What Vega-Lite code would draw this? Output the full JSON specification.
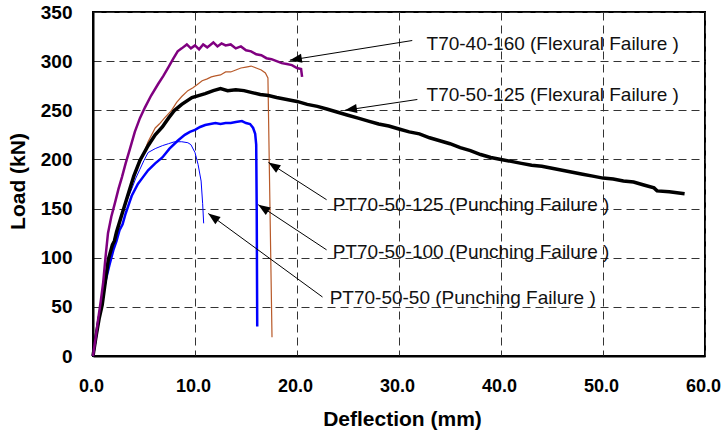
{
  "$schema": "https://vega.github.io/schema/vega-lite/v6.json",
  "width": 612,
  "height": 344,
  "autosize": "none",
  "padding": {"left": 93, "top": 12, "right": 17, "bottom": 78},
  "background": "white",
  "config": {
    "view": {"stroke": "black", "strokeWidth": 2},
    "axis": {
      "domainColor": "black", "domainWidth": 2,
      "gridColor": "#333333", "gridDash": [8, 5], "gridWidth": 1,
      "ticks": false, "tickSize": 0,
      "labelFont": "Liberation Sans", "labelFontWeight": "bold", "labelFontSize": 19, "labelColor": "black",
      "titleFont": "Liberation Sans", "titleFontWeight": "bold", "titleFontSize": 21, "titleColor": "black"
    }
  },
  "datasets": {
    "curves": [
      {"s":"PT70-50-125","x":0,"y":0},{"s":"PT70-50-125","x":0.3,"y":18},{"s":"PT70-50-125","x":0.6,"y":36},{"s":"PT70-50-125","x":0.9,"y":52},{"s":"PT70-50-125","x":1.2,"y":72},{"s":"PT70-50-125","x":1.5,"y":90},{"s":"PT70-50-125","x":1.9,"y":108},{"s":"PT70-50-125","x":2.4,"y":128},{"s":"PT70-50-125","x":2.9,"y":146},{"s":"PT70-50-125","x":3.4,"y":162},{"s":"PT70-50-125","x":3.9,"y":178},{"s":"PT70-50-125","x":4.4,"y":192},{"s":"PT70-50-125","x":4.9,"y":204},{"s":"PT70-50-125","x":5.4,"y":218},{"s":"PT70-50-125","x":6.1,"y":232},{"s":"PT70-50-125","x":6.5,"y":236},{"s":"PT70-50-125","x":7.0,"y":242},{"s":"PT70-50-125","x":7.7,"y":250},{"s":"PT70-50-125","x":8.2,"y":258},{"s":"PT70-50-125","x":8.7,"y":264},{"s":"PT70-50-125","x":9.3,"y":270},{"s":"PT70-50-125","x":9.8,"y":273},{"s":"PT70-50-125","x":10.2,"y":276},{"s":"PT70-50-125","x":10.7,"y":280},{"s":"PT70-50-125","x":11.2,"y":282},{"s":"PT70-50-125","x":11.6,"y":284},{"s":"PT70-50-125","x":12.0,"y":285},{"s":"PT70-50-125","x":12.5,"y":286},{"s":"PT70-50-125","x":13.0,"y":289},{"s":"PT70-50-125","x":13.5,"y":289},{"s":"PT70-50-125","x":14.0,"y":291},{"s":"PT70-50-125","x":14.5,"y":293},{"s":"PT70-50-125","x":15.0,"y":294},{"s":"PT70-50-125","x":15.5,"y":295},{"s":"PT70-50-125","x":16.0,"y":293},{"s":"PT70-50-125","x":16.5,"y":291},{"s":"PT70-50-125","x":16.9,"y":288},{"s":"PT70-50-125","x":17.15,"y":283},{"s":"PT70-50-125","x":17.55,"y":19},
      {"s":"PT70-50-50","x":0,"y":0},{"s":"PT70-50-50","x":0.3,"y":22},{"s":"PT70-50-50","x":0.6,"y":44},{"s":"PT70-50-50","x":0.9,"y":64},{"s":"PT70-50-50","x":1.2,"y":82},{"s":"PT70-50-50","x":1.6,"y":100},{"s":"PT70-50-50","x":2.0,"y":117},{"s":"PT70-50-50","x":2.4,"y":128},{"s":"PT70-50-50","x":3.0,"y":148},{"s":"PT70-50-50","x":3.4,"y":160},{"s":"PT70-50-50","x":3.8,"y":170},{"s":"PT70-50-50","x":4.2,"y":181},{"s":"PT70-50-50","x":4.6,"y":190},{"s":"PT70-50-50","x":5.0,"y":199},{"s":"PT70-50-50","x":5.4,"y":207},{"s":"PT70-50-50","x":6.1,"y":211},{"s":"PT70-50-50","x":6.8,"y":214},{"s":"PT70-50-50","x":7.4,"y":216},{"s":"PT70-50-50","x":8.0,"y":218},{"s":"PT70-50-50","x":8.7,"y":218},{"s":"PT70-50-50","x":9.3,"y":217},{"s":"PT70-50-50","x":9.6,"y":215},{"s":"PT70-50-50","x":10.0,"y":207},{"s":"PT70-50-50","x":10.3,"y":195},{"s":"PT70-50-50","x":10.6,"y":178},{"s":"PT70-50-50","x":10.75,"y":155},{"s":"PT70-50-50","x":10.85,"y":135},
      {"s":"PT70-50-100","x":0,"y":0},{"s":"PT70-50-100","x":0.3,"y":20},{"s":"PT70-50-100","x":0.6,"y":40},{"s":"PT70-50-100","x":0.9,"y":58},{"s":"PT70-50-100","x":1.2,"y":75},{"s":"PT70-50-100","x":1.6,"y":92},{"s":"PT70-50-100","x":2.0,"y":108},{"s":"PT70-50-100","x":2.3,"y":117},{"s":"PT70-50-100","x":2.6,"y":128},{"s":"PT70-50-100","x":2.9,"y":134},{"s":"PT70-50-100","x":3.2,"y":145},{"s":"PT70-50-100","x":3.5,"y":154},{"s":"PT70-50-100","x":3.8,"y":163},{"s":"PT70-50-100","x":4.4,"y":175},{"s":"PT70-50-100","x":4.9,"y":182},{"s":"PT70-50-100","x":5.4,"y":189},{"s":"PT70-50-100","x":6.1,"y":196},{"s":"PT70-50-100","x":6.8,"y":202},{"s":"PT70-50-100","x":7.5,"y":211},{"s":"PT70-50-100","x":8.3,"y":219},{"s":"PT70-50-100","x":9.0,"y":225},{"s":"PT70-50-100","x":9.5,"y":228},{"s":"PT70-50-100","x":10.0,"y":230},{"s":"PT70-50-100","x":10.5,"y":233},{"s":"PT70-50-100","x":11.0,"y":235},{"s":"PT70-50-100","x":11.5,"y":236},{"s":"PT70-50-100","x":12.0,"y":237},{"s":"PT70-50-100","x":12.5,"y":236},{"s":"PT70-50-100","x":13.0,"y":237},{"s":"PT70-50-100","x":13.5,"y":237},{"s":"PT70-50-100","x":14.0,"y":238},{"s":"PT70-50-100","x":14.6,"y":239},{"s":"PT70-50-100","x":15.0,"y":237},{"s":"PT70-50-100","x":15.4,"y":236},{"s":"PT70-50-100","x":15.7,"y":232},{"s":"PT70-50-100","x":15.9,"y":226},{"s":"PT70-50-100","x":16.0,"y":215},{"s":"PT70-50-100","x":16.05,"y":150},{"s":"PT70-50-100","x":16.1,"y":30},
      {"s":"T70-50-125","x":0,"y":0},{"s":"T70-50-125","x":0.3,"y":20},{"s":"T70-50-125","x":0.6,"y":38},{"s":"T70-50-125","x":0.9,"y":52},{"s":"T70-50-125","x":1.2,"y":75},{"s":"T70-50-125","x":1.5,"y":98},{"s":"T70-50-125","x":1.9,"y":113},{"s":"T70-50-125","x":2.1,"y":117},{"s":"T70-50-125","x":2.3,"y":126},{"s":"T70-50-125","x":2.8,"y":143},{"s":"T70-50-125","x":3.4,"y":163},{"s":"T70-50-125","x":4.0,"y":183},{"s":"T70-50-125","x":4.6,"y":199},{"s":"T70-50-125","x":5.4,"y":214},{"s":"T70-50-125","x":6.1,"y":225},{"s":"T70-50-125","x":6.8,"y":233},{"s":"T70-50-125","x":7.4,"y":242},{"s":"T70-50-125","x":8.0,"y":250},{"s":"T70-50-125","x":8.7,"y":256},{"s":"T70-50-125","x":9.7,"y":263},{"s":"T70-50-125","x":11.0,"y":267},{"s":"T70-50-125","x":11.8,"y":270},{"s":"T70-50-125","x":12.5,"y":272},{"s":"T70-50-125","x":13.2,"y":270},{"s":"T70-50-125","x":14.0,"y":271},{"s":"T70-50-125","x":14.8,"y":270},{"s":"T70-50-125","x":15.6,"y":268},{"s":"T70-50-125","x":16.4,"y":266},{"s":"T70-50-125","x":17.2,"y":265},{"s":"T70-50-125","x":18.0,"y":263},{"s":"T70-50-125","x":19.0,"y":261},{"s":"T70-50-125","x":20.0,"y":259},{"s":"T70-50-125","x":21.0,"y":256},{"s":"T70-50-125","x":22.0,"y":254},{"s":"T70-50-125","x":23.0,"y":251},{"s":"T70-50-125","x":24.0,"y":248},{"s":"T70-50-125","x":25.0,"y":245},{"s":"T70-50-125","x":26.0,"y":242},{"s":"T70-50-125","x":27.0,"y":239},{"s":"T70-50-125","x":28.0,"y":236},{"s":"T70-50-125","x":29.0,"y":234},{"s":"T70-50-125","x":30.0,"y":231},{"s":"T70-50-125","x":31.0,"y":228},{"s":"T70-50-125","x":32.0,"y":226},{"s":"T70-50-125","x":33.0,"y":222},{"s":"T70-50-125","x":34.0,"y":219},{"s":"T70-50-125","x":35.0,"y":216},{"s":"T70-50-125","x":36.0,"y":212},{"s":"T70-50-125","x":37.0,"y":209},{"s":"T70-50-125","x":38.0,"y":205},{"s":"T70-50-125","x":39.0,"y":202},{"s":"T70-50-125","x":40.0,"y":200},{"s":"T70-50-125","x":41.0,"y":198},{"s":"T70-50-125","x":42.0,"y":196},{"s":"T70-50-125","x":43.0,"y":194},{"s":"T70-50-125","x":44.0,"y":193},{"s":"T70-50-125","x":45.0,"y":191},{"s":"T70-50-125","x":46.0,"y":189},{"s":"T70-50-125","x":47.0,"y":187},{"s":"T70-50-125","x":48.0,"y":185},{"s":"T70-50-125","x":49.0,"y":183},{"s":"T70-50-125","x":50.0,"y":181},{"s":"T70-50-125","x":51.0,"y":180},{"s":"T70-50-125","x":52.0,"y":178},{"s":"T70-50-125","x":53.0,"y":177},{"s":"T70-50-125","x":54.0,"y":174},{"s":"T70-50-125","x":55.0,"y":171},{"s":"T70-50-125","x":55.3,"y":168},{"s":"T70-50-125","x":56.5,"y":167},{"s":"T70-50-125","x":58.0,"y":165},
      {"s":"T70-40-160","x":0,"y":0},{"s":"T70-40-160","x":0.25,"y":18},{"s":"T70-40-160","x":0.5,"y":37},{"s":"T70-40-160","x":0.75,"y":55},{"s":"T70-40-160","x":1.0,"y":75},{"s":"T70-40-160","x":1.25,"y":103},{"s":"T70-40-160","x":1.47,"y":125},{"s":"T70-40-160","x":1.8,"y":142},{"s":"T70-40-160","x":2.16,"y":156},{"s":"T70-40-160","x":2.5,"y":170},{"s":"T70-40-160","x":2.84,"y":182},{"s":"T70-40-160","x":3.2,"y":196},{"s":"T70-40-160","x":3.6,"y":210},{"s":"T70-40-160","x":4.1,"y":228},{"s":"T70-40-160","x":4.6,"y":242},{"s":"T70-40-160","x":5.1,"y":253},{"s":"T70-40-160","x":5.7,"y":265},{"s":"T70-40-160","x":6.4,"y":277},{"s":"T70-40-160","x":6.9,"y":285},{"s":"T70-40-160","x":7.4,"y":294},{"s":"T70-40-160","x":7.9,"y":303},{"s":"T70-40-160","x":8.3,"y":310},{"s":"T70-40-160","x":8.7,"y":313},{"s":"T70-40-160","x":9.2,"y":317},{"s":"T70-40-160","x":9.6,"y":313},{"s":"T70-40-160","x":10.0,"y":316},{"s":"T70-40-160","x":10.4,"y":312},{"s":"T70-40-160","x":10.8,"y":317},{"s":"T70-40-160","x":11.2,"y":314},{"s":"T70-40-160","x":11.8,"y":319},{"s":"T70-40-160","x":12.2,"y":315},{"s":"T70-40-160","x":12.6,"y":318},{"s":"T70-40-160","x":13.0,"y":316},{"s":"T70-40-160","x":13.5,"y":317},{"s":"T70-40-160","x":14.0,"y":313},{"s":"T70-40-160","x":14.5,"y":315},{"s":"T70-40-160","x":15.0,"y":311},{"s":"T70-40-160","x":15.5,"y":310},{"s":"T70-40-160","x":16.0,"y":307},{"s":"T70-40-160","x":16.5,"y":306},{"s":"T70-40-160","x":17.0,"y":303},{"s":"T70-40-160","x":17.5,"y":302},{"s":"T70-40-160","x":18.0,"y":300},{"s":"T70-40-160","x":18.5,"y":298},{"s":"T70-40-160","x":19.0,"y":297},{"s":"T70-40-160","x":19.5,"y":296},{"s":"T70-40-160","x":20.0,"y":293},{"s":"T70-40-160","x":20.4,"y":292},{"s":"T70-40-160","x":20.5,"y":284}
    ],
    "arrows": [
      {"a":"T70-40-160","x":31.3,"y":321,"x2":19.3,"y2":301},
      {"a":"T70-50-125","x":31.8,"y":261,"x2":24.7,"y2":250},
      {"a":"PT70-50-125","x":22.9,"y":159,"x2":17.2,"y2":197},
      {"a":"PT70-50-100","x":22.9,"y":108,"x2":16.2,"y2":154},
      {"a":"PT70-50-50","x":22.5,"y":60,"x2":11.3,"y2":145}
    ],
    "heads": [
      {"a":"T70-40-160","x":19.3,"y":301},
      {"a":"T70-50-125","x":24.7,"y":250},
      {"a":"PT70-50-125","x":17.2,"y":197},
      {"a":"PT70-50-100","x":16.2,"y":154},
      {"a":"PT70-50-50","x":11.3,"y":145}
    ],
    "labels": [
      {"t":"T70-40-160 (Flexural Failure )","x":32.7,"y":317},
      {"t":"T70-50-125 (Flexural Failure )","x":32.7,"y":265.5},
      {"t":"PT70-50-125 (Punching Failure )","x":23.5,"y":153.6},
      {"t":"PT70-50-100 (Punching Failure )","x":23.5,"y":105.8},
      {"t":"PT70-50-50 (Punching Failure )","x":23.2,"y":59}
    ]
  },
  "encoding": {
    "x": {"field": "x", "type": "quantitative",
      "scale": {"domain": [0, 60], "nice": false, "zero": false},
      "axis": {"title": "Deflection (mm)", "values": [0, 10, 20, 30, 40, 50, 60], "format": ".1f",
        "labelFontSize": 18, "labelOffset": -2,
        "labelPadding": 21, "labelFlush": false, "titleY": 63, "titleX": 309, "titleBaseline": "middle"}},
    "y": {"field": "y", "type": "quantitative",
      "scale": {"domain": [0, 350], "nice": false},
      "axis": {"title": "Load (kN)", "values": [0, 50, 100, 150, 200, 250, 300, 350], "format": "d",
        "labelPadding": 21, "labelFlush": false, "titleX": -75, "titleY": 169, "titleAngle": -90,
        "titleBaseline": "middle", "titleAlign": "center"}}
  },
  "layer": [
    {"data": {"name": "curves"}, "transform": [{"filter": "datum.s === 'PT70-50-125'"}],
      "mark": {"type": "line", "color": "#B85A2A", "strokeWidth": 1.2}},
    {"data": {"name": "curves"}, "transform": [{"filter": "datum.s === 'PT70-50-50'"}],
      "mark": {"type": "line", "color": "#0000FF", "strokeWidth": 1}},
    {"data": {"name": "curves"}, "transform": [{"filter": "datum.s === 'PT70-50-100'"}],
      "mark": {"type": "line", "color": "#0000FF", "strokeWidth": 2.5}},
    {"data": {"name": "curves"}, "transform": [{"filter": "datum.s === 'T70-50-125'"}],
      "mark": {"type": "line", "color": "#000000", "strokeWidth": 3.5}},
    {"data": {"name": "curves"}, "transform": [{"filter": "datum.s === 'T70-40-160'"}],
      "mark": {"type": "line", "color": "#800080", "strokeWidth": 2.5}},
    {"data": {"name": "arrows"},
      "mark": {"type": "rule", "color": "#000000", "strokeWidth": 1},
      "encoding": {"x2": {"field": "x2"}, "y2": {"field": "y2"}}},
    {"data": {"name": "heads"}, "transform": [{"filter": "datum.a === 'T70-40-160'"}],
      "mark": {"type": "point", "shape": "M0,0L-0.75,2L0.75,2Z", "filled": true, "color": "#000000", "opacity": 1, "size": 144, "angle": 261, "strokeWidth": 0}},
    {"data": {"name": "heads"}, "transform": [{"filter": "datum.a === 'T70-50-125'"}],
      "mark": {"type": "point", "shape": "M0,0L-0.75,2L0.75,2Z", "filled": true, "color": "#000000", "opacity": 1, "size": 144, "angle": 261.5, "strokeWidth": 0}},
    {"data": {"name": "heads"}, "transform": [{"filter": "datum.a === 'PT70-50-125'"}],
      "mark": {"type": "point", "shape": "M0,0L-0.75,2L0.75,2Z", "filled": true, "color": "#000000", "opacity": 1, "size": 144, "angle": 303, "strokeWidth": 0}},
    {"data": {"name": "heads"}, "transform": [{"filter": "datum.a === 'PT70-50-100'"}],
      "mark": {"type": "point", "shape": "M0,0L-0.75,2L0.75,2Z", "filled": true, "color": "#000000", "opacity": 1, "size": 144, "angle": 303.5, "strokeWidth": 0}},
    {"data": {"name": "heads"}, "transform": [{"filter": "datum.a === 'PT70-50-50'"}],
      "mark": {"type": "point", "shape": "M0,0L-0.75,2L0.75,2Z", "filled": true, "color": "#000000", "opacity": 1, "size": 144, "angle": 306, "strokeWidth": 0}},
    {"data": {"name": "labels"},
      "mark": {"type": "text", "align": "left", "baseline": "middle", "font": "Liberation Sans", "fontSize": 19, "color": "#111111"},
      "encoding": {"text": {"field": "t"}}}
  ]
}
